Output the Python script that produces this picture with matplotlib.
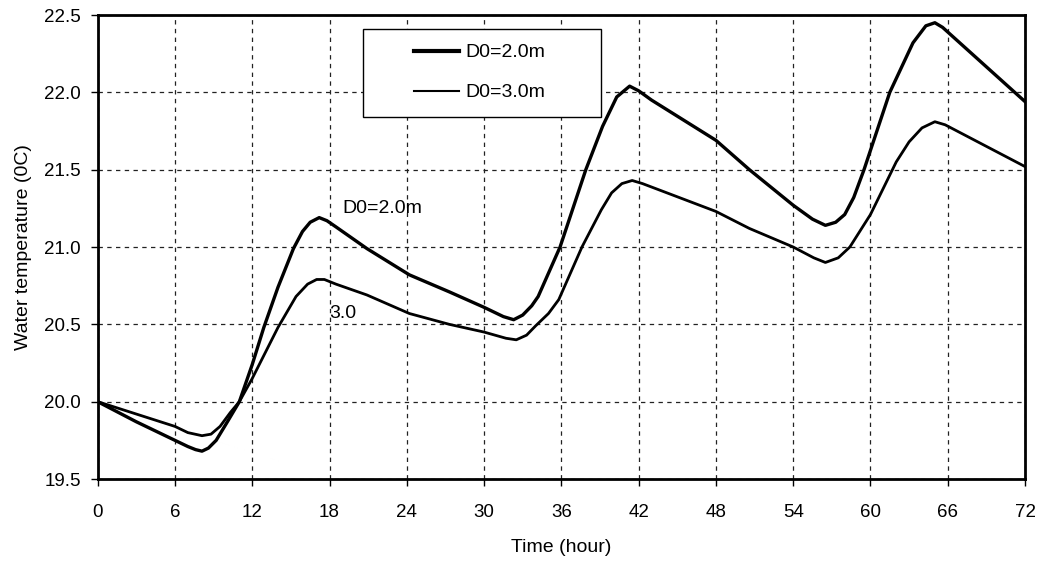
import matplotlib
matplotlib.use('Agg')
import matplotlib.pyplot as plt
from matplotlib.patches import Rectangle

plt.rcParams['font.family'] = ['Liberation Sans', 'DejaVu Sans']

# hours and water temperature for the two depths
hours_d2 = [0, 3, 6, 7, 7.6, 8.1, 8.6, 9.2, 10, 11, 12, 12.9, 14, 15.2, 15.9, 16.5, 17.2,
            17.8, 18.5, 20.9, 24.2, 27.3, 30, 31.5, 32.3, 33.0, 33.7, 34.2, 35.9, 37.9,
            39.2, 40.3, 41.3, 42.0, 43, 48, 50.6, 54, 55.5, 56.5, 57.3, 58.0, 58.7, 59.5,
            61.5, 63.3, 64.3, 65, 65.6, 72]
temp_d2 = [20.0, 19.87, 19.75, 19.71, 19.69, 19.68, 19.70, 19.75, 19.86, 20.0, 20.24,
           20.48, 20.74, 20.99, 21.10, 21.16, 21.19, 21.17, 21.13, 20.99, 20.82, 20.71,
           20.61, 20.55, 20.53, 20.56, 20.62, 20.68, 21.0, 21.5, 21.78, 21.97, 22.04, 22.01,
           21.95, 21.69, 21.5, 21.27, 21.18, 21.14, 21.16, 21.21, 21.32, 21.5, 22.0, 22.32,
           22.43, 22.45, 22.42, 21.94]

hours_d3 = [0, 3, 6, 7, 8.1, 8.8, 9.5, 10.3, 11, 12, 14, 15.4, 16.3, 17, 17.6, 18.5, 20.9,
            24.2, 27.3, 30, 31.7, 32.5, 33.3, 34, 35, 35.8, 37.6, 39.1, 39.9, 40.7, 41.5,
            42.3, 48, 50.6, 54, 55.6, 56.5, 57.5, 58.4, 60, 61, 62, 63, 64, 65, 65.8, 72]
temp_d3 = [20.0, 19.92, 19.84, 19.80, 19.78, 19.79, 19.84, 19.93, 20.0, 20.15, 20.48, 20.68,
           20.76, 20.79, 20.79, 20.76, 20.69, 20.57, 20.50, 20.45, 20.41, 20.40, 20.43, 20.49,
           20.57, 20.66, 21.0, 21.24, 21.35, 21.41, 21.43, 21.41, 21.23, 21.12, 21.0, 20.93,
           20.90, 20.93, 21.0, 21.21, 21.38, 21.55, 21.68, 21.77, 21.81, 21.79, 21.52]

x_ticks = [0, 6, 12, 18, 24, 30, 36, 42, 48, 54, 60, 66, 72]
y_ticks = [19.5, 20.0, 20.5, 21.0, 21.5, 22.0, 22.5]

fig = plt.figure(figsize=(10.38, 5.64), dpi=100)
ax = fig.add_axes([0.0941, 0.1507, 0.8934, 0.8227])

ax.plot(hours_d2, temp_d2, c='black', lw=2.4, label='D0=2.0m')
ax.plot(hours_d3, temp_d3, c='black', lw=2.0, label='D0=3.0m')

ax.set_xlim(0, 72)
ax.set_ylim(19.5, 22.5)
ax.set_xticks(x_ticks)
ax.set_yticks(y_ticks)
ax.set_yticklabels(['%.1f' % v for v in y_ticks])
ax.tick_params(axis='x', direction='out', length=5, width=1, pad=13, labelsize=13.5)
ax.tick_params(axis='y', direction='out', length=5, width=1, pad=7, labelsize=13.5)
ax.grid(True, color='#222222', lw=0.9, linestyle=(0, (3.5, 3.5)))
for s in ax.spines.values():
    s.set_linewidth(2.0)

ax.set_xlabel('Time (hour)', fontsize=14, labelpad=13)
ax.set_ylabel('Water temperature (0C)', fontsize=14, labelpad=9)

ax.text(19.0, 21.25, 'D0=2.0m', fontsize=14, va='center', ha='left')
ax.text(18.0, 20.57, '3.0', fontsize=14, va='center', ha='left')

# legend box
ax.add_patch(Rectangle((0.286, 0.780), 0.257, 0.190, transform=ax.transAxes,
                       facecolor='white', edgecolor='black', lw=1.0, zorder=4))
leg = ax.legend(loc='center left', bbox_to_anchor=(0.331, 0.876), frameon=False,
                fontsize=14, handlelength=2.3, handletextpad=0.3, borderpad=0,
                labelspacing=1.15)
leg.set_zorder(5)
leg.get_lines()[0].set_linewidth(3.0)
leg.get_lines()[1].set_linewidth(1.5)

plt.savefig('out.png', dpi=100)
